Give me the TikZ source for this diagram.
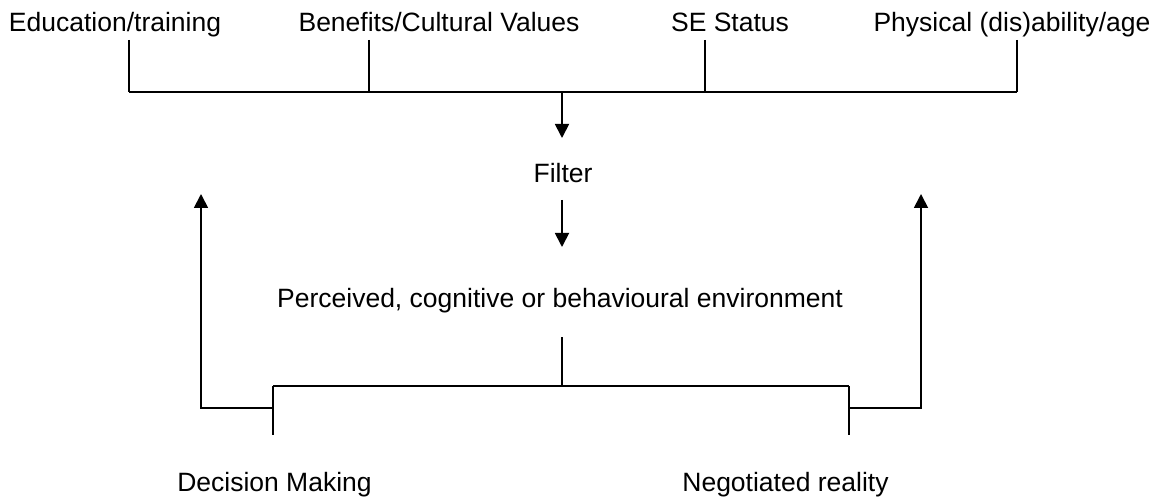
\documentclass[tikz,border=0pt]{standalone}
\usepackage{fontspec}
\setmainfont{Liberation Sans}
\usetikzlibrary{arrows.meta}
\begin{document}
\begin{tikzpicture}[x=1pt,y=-1pt,
  txt/.style={inner sep=0pt, anchor=base, font=\fontsize{26.5}{30}\selectfont},
  wire/.style={line width=1.8pt, line join=miter},
  flow/.style={wire, -{Triangle[width=14pt,length=14pt]}}]
\useasboundingbox (0,0) rectangle (1159,497);

% influences on the filter
\node[txt] (edu)  at (115,32)  {Education/training};
\node[txt] (ben)  at (439,32)  {Benefits/Cultural Values};
\node[txt] (se)   at (730,32)  {SE Status};
\node[txt] (phys) at (1012,32) {Physical (dis)ability/age};

\coordinate (t1) at (129,40);  \coordinate (b1) at (129,92);
\coordinate (t2) at (369,40);  \coordinate (b2) at (369,92);
\coordinate (t3) at (705,40);  \coordinate (b3) at (705,92);
\coordinate (t4) at (1017,40); \coordinate (b4) at (1017,92);
\coordinate (topmid) at (562,92);
\coordinate (filtin) at (562,138);

\draw[wire] (t1) -- (b1);
\draw[wire] (t2) -- (b2);
\draw[wire] (t3) -- (b3);
\draw[wire] (t4) -- (b4);
\draw[wire] (b1) -- (b4);
\draw[flow] (topmid) -- (filtin);

% filter and perceived environment
\node[txt] (filter) at (563,183) {Filter};
\coordinate (filtout) at (562,200);
\coordinate (envin) at (562,247);
\draw[flow] (filtout) -- (envin);

\node[txt] (env) at (560,307) {Perceived, cognitive or behavioural environment};

% split into outcomes
\coordinate (envout) at (562,337);
\coordinate (split) at (562,386);
\coordinate (lt) at (273,386); \coordinate (lb) at (273,435);
\coordinate (rt) at (849,386); \coordinate (rb) at (849,435);
\draw[wire] (envout) -- (split);
\draw[wire] (lt) -- (rt);
\draw[wire] (lt) -- (lb);
\draw[wire] (rt) -- (rb);

% feedback loops
\coordinate (lf) at (273,408); \coordinate (lc) at (201,408); \coordinate (la) at (201,194);
\coordinate (rf) at (849,408); \coordinate (rc) at (921,408); \coordinate (ra) at (921,194);
\draw[flow] (lf) -- (lc) -- (la);
\draw[flow] (rf) -- (rc) -- (ra);

\node[txt] (dec) at (274.5,491.5) {Decision Making};
\node[txt] (neg) at (785.5,491) {Negotiated reality};
\end{tikzpicture}
\end{document}
